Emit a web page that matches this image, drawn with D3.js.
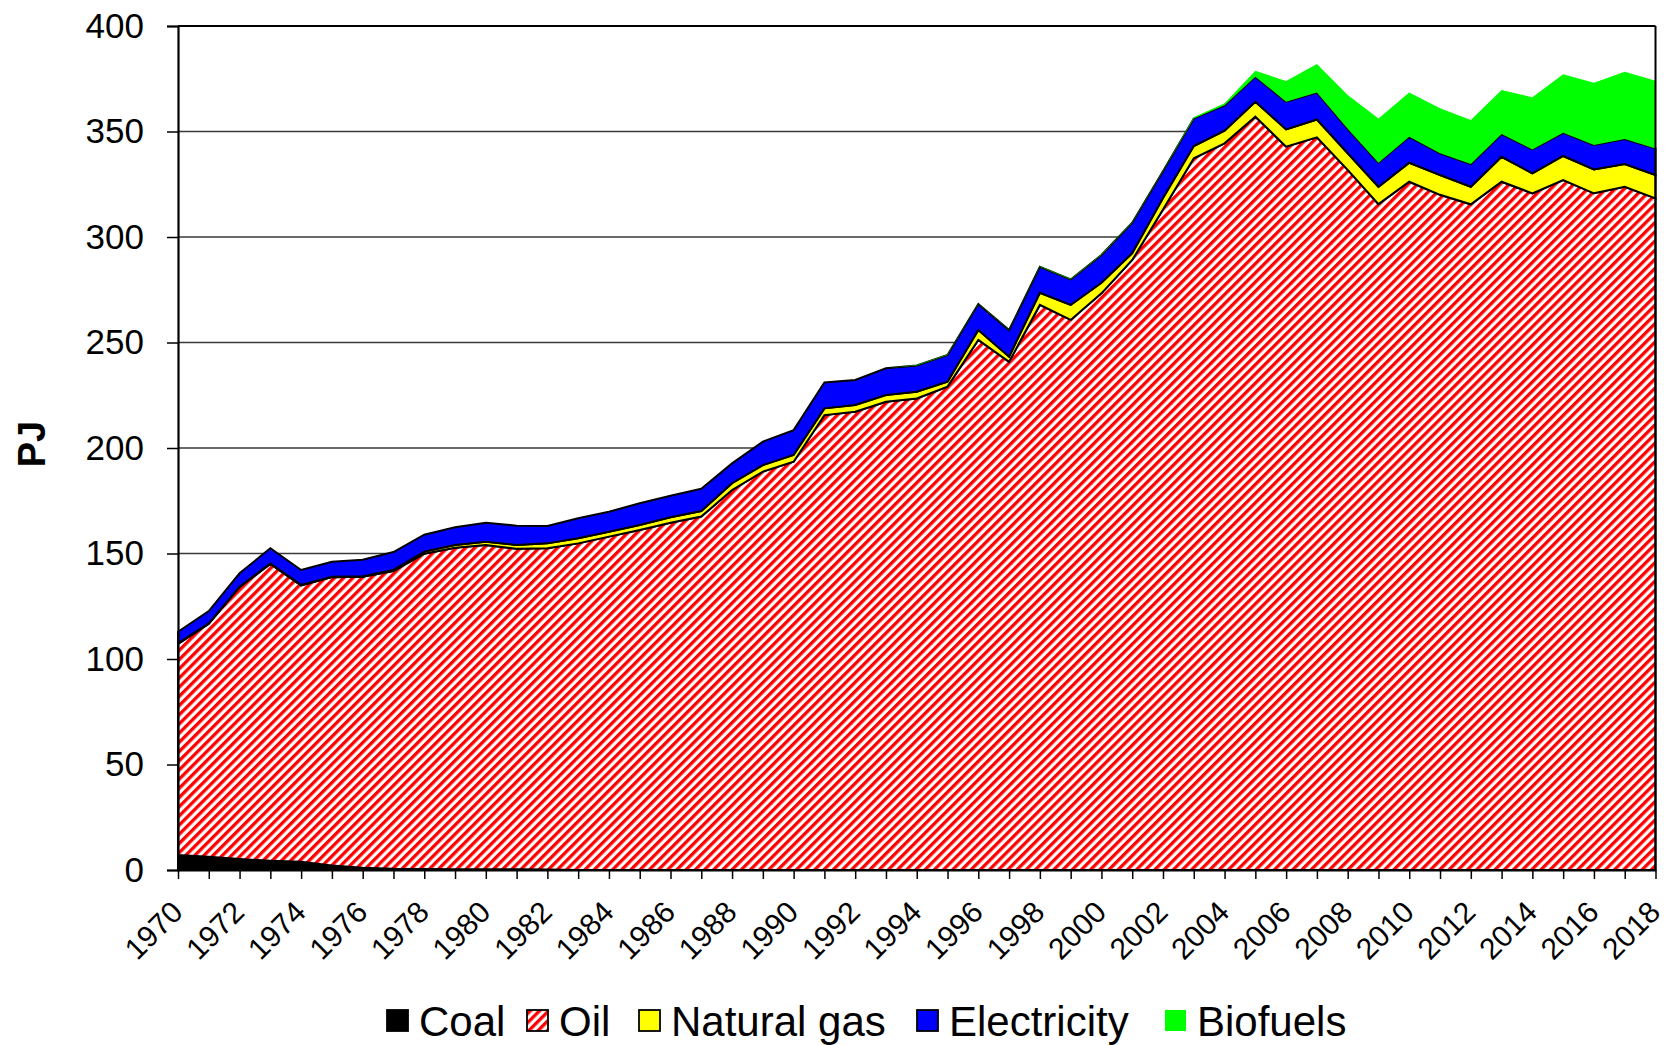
<!DOCTYPE html>
<html>
<head>
<meta charset="utf-8">
<script src="https://cdn.jsdelivr.net/npm/d3@7/dist/d3.min.js"></script>
<style>
  html, body { margin: 0; padding: 0; background: #fff; }
  svg { display: block; font-family: "Liberation Sans", Arial, sans-serif; }
</style>
</head>
<body>
<svg id="chart" width="1668" height="1045"></svg>
<script>
// ---------- DATA ----------
const years = [1970,1971,1972,1973,1974,1975,1976,1977,1978,1979,
  1980,1981,1982,1983,1984,1985,1986,1987,1988,1989,
  1990,1991,1992,1993,1994,1995,1996,1997,1998,1999,
  2000,2001,2002,2003,2004,2005,2006,2007,2008,2009,
  2010,2011,2012,2013,2014,2015,2016,2017,2018];

const coal = [7.1,6.3,5.2,4.4,3.9,2.1,1.1,0.6,0.5,0.4,
  0.4,0.3,0.2,0,0,0,0,0,0,0,
  0,0,0,0,0,0,0,0,0,0,
  0,0,0,0,0,0,0,0,0,0,
  0,0,0,0,0,0,0,0,0];

const oil = [100.1,110.4,128.9,140.7,131.0,136.7,137.9,141.1,149.4,152.3,
  153.6,151.9,152.3,154.8,158.0,161.1,164.6,167.5,180.1,188.8,
  193.5,215.6,217.2,221.9,223.5,229.1,251.2,240.9,267.8,260.7,
  273.3,289.1,313.0,337.3,344.4,357.0,342.8,347.2,331.8,315.6,
  326.2,320.0,315.5,326.2,320.7,327.0,320.7,323.8,318.3];

const naturalGas = [0.2,0.2,0.2,0.2,0.2,0.2,0.2,0.5,1.0,1.3,
  1.6,1.8,2.3,2.4,2.3,2.4,2.6,2.6,3.2,3.1,
  3.2,3.2,3.2,3.2,3.2,2.3,4.7,2.4,5.8,7.1,
  5.0,3.2,5.5,5.8,6.0,7.1,8.2,8.5,7.9,8.2,
  9.0,9.4,8.3,11.8,9.5,11.4,11.3,10.8,11.1];

const electricity = [5.5,5.8,6.3,7.2,7.1,7.1,7.8,8.5,8.0,8.4,
  9.0,9.2,8.2,9.5,9.5,10.3,10.2,10.6,9.4,11.1,
  11.8,12.3,11.8,12.7,12.4,12.7,12.3,12.6,12.3,12.1,
  13.2,14.5,12.7,13.1,12.0,11.9,13.1,12.8,11.6,11.4,
  12.3,10.3,10.8,10.8,11.3,11.0,11.6,11.8,12.6];

const biofuels = [0,0,0,0,0,0,0,0,0,0,
  0,0,0,0,0,0,0,0,0,0,
  0,0,0,0,0.2,0.2,0.2,0.2,0.2,0.2,
  0.2,0.2,0.2,0.5,1.0,2.8,9.8,13.5,16.0,21.0,
  21.0,21.3,20.9,20.9,24.7,27.7,29.5,31.9,32.1];

const seriesNames = ["Coal", "Oil", "Natural gas", "Electricity", "Biofuels"];
const yTicks = [0, 50, 100, 150, 200, 250, 300, 350, 400];
const yLabel = "PJ";

// ---------- TABLE ----------
const seriesArrays = [coal, oil, naturalGas, electricity, biofuels];
const table = years.map((yr, i) => {
  const row = { year: yr };
  seriesNames.forEach((k, j) => { row[k] = seriesArrays[j][i]; });
  return row;
});

// ---------- LAYOUT ----------
const svg = d3.select("#chart");
const L = 178, R = 1655.5, T = 26, B = 870;
const x = d3.scaleLinear().domain([1970, 2018]).range([L, R]);
const y = d3.scaleLinear().domain([0, 400]).range([B, T]);

const styles = {
  "Coal":        { fill: "#000000", stroke: "#000" },
  "Oil":         { fill: "url(#hatch)", stroke: "#000" },
  "Natural gas": { fill: "#ffff00", stroke: "#000" },
  "Electricity": { fill: "#0000ff", stroke: "#000" },
  "Biofuels":    { fill: "#00ff00", stroke: "none" }
};

// hatch pattern for oil
const defs = svg.append("defs");
const pat = defs.append("pattern")
  .attr("id", "hatch")
  .attr("patternUnits", "userSpaceOnUse")
  .attr("width", 6.5).attr("height", 6.5)
  .attr("patternTransform", "rotate(45)");
pat.append("rect").attr("width", 6.5).attr("height", 6.5).attr("fill", "#fff");
pat.append("rect").attr("width", 3.3).attr("height", 6.5).attr("fill", "#ff0000");

// gridlines
svg.append("g").selectAll("line")
  .data(yTicks.filter(v => v > 0 && v < 400))
  .join("line")
  .attr("x1", L).attr("x2", R)
  .attr("y1", d => y(d)).attr("y2", d => y(d))
  .attr("stroke", "#3a3a3a").attr("stroke-width", 1.4);

// stacked areas
const stack = d3.stack().keys(seriesNames);
const layers = stack(table);
const area = d3.area()
  .x(d => x(d.data.year))
  .y0(d => y(d[0]))
  .y1(d => y(d[1]));

svg.append("g").selectAll("path")
  .data(layers)
  .join("path")
  .attr("d", area)
  .attr("fill", d => styles[d.key].fill)
  .attr("stroke", d => styles[d.key].stroke)
  .attr("stroke-width", 2)
  .attr("stroke-linejoin", "miter");

// frame (top & right)
svg.append("line").attr("x1", L).attr("x2", R).attr("y1", T).attr("y2", T)
  .attr("stroke", "#000").attr("stroke-width", 2);
svg.append("line").attr("x1", R).attr("x2", R).attr("y1", T).attr("y2", B)
  .attr("stroke", "#000").attr("stroke-width", 2);

// y axis
const yAxis = d3.axisLeft(y).tickValues(yTicks).tickSize(11).tickPadding(23)
  .tickFormat(d3.format("d"));
const gy = svg.append("g").attr("transform", `translate(${L},0)`).call(yAxis);
gy.select(".domain").attr("stroke", "#000").attr("stroke-width", 2.2);
gy.selectAll(".tick line").attr("stroke", "#000").attr("stroke-width", 1.5);
gy.selectAll(".tick text")
  .attr("font-family", "Liberation Sans, Arial, sans-serif")
  .attr("font-size", 35).attr("fill", "#000");

// x axis
const xAxis = d3.axisBottom(x).tickValues(years).tickSize(9).tickSizeOuter(0)
  .tickFormat(d => (d % 2 === 0 ? String(d) : ""));
const gx = svg.append("g").attr("transform", `translate(0,${B})`).call(xAxis);
gx.select(".domain").attr("stroke", "#000").attr("stroke-width", 2.2);
gx.selectAll(".tick line").attr("stroke", "#000").attr("stroke-width", 1.5);
gx.selectAll(".tick text")
  .attr("font-family", "Liberation Sans, Arial, sans-serif")
  .attr("font-size", 30).attr("fill", "#000")
  .attr("text-anchor", "end")
  .attr("dy", null)
  .attr("y", 0)
  .attr("transform", "translate(6,44) rotate(-45)");

// y label
svg.append("text")
  .attr("transform", "translate(45,444) rotate(-90)")
  .attr("text-anchor", "middle")
  .attr("font-weight", "bold")
  .attr("font-size", 38)
  .attr("fill", "#000")
  .text(yLabel);

// legend
const legendX = [387, 527, 639, 917, 1165];
const legendY = 1021;
const lg = svg.append("g");
seriesNames.forEach((k, i) => {
  const g = lg.append("g").attr("transform", `translate(${legendX[i]},${legendY})`);
  g.append("rect")
    .attr("x", 0).attr("y", -11).attr("width", 21).attr("height", 21)
    .attr("fill", styles[k].fill)
    .attr("stroke", k === "Biofuels" ? "none" : "#000")
    .attr("stroke-width", 1.8);
  g.append("text")
    .attr("x", 32).attr("y", 15)
    .attr("font-size", 42).attr("fill", "#000")
    .text(k);
});
</script>
</body>
</html>
